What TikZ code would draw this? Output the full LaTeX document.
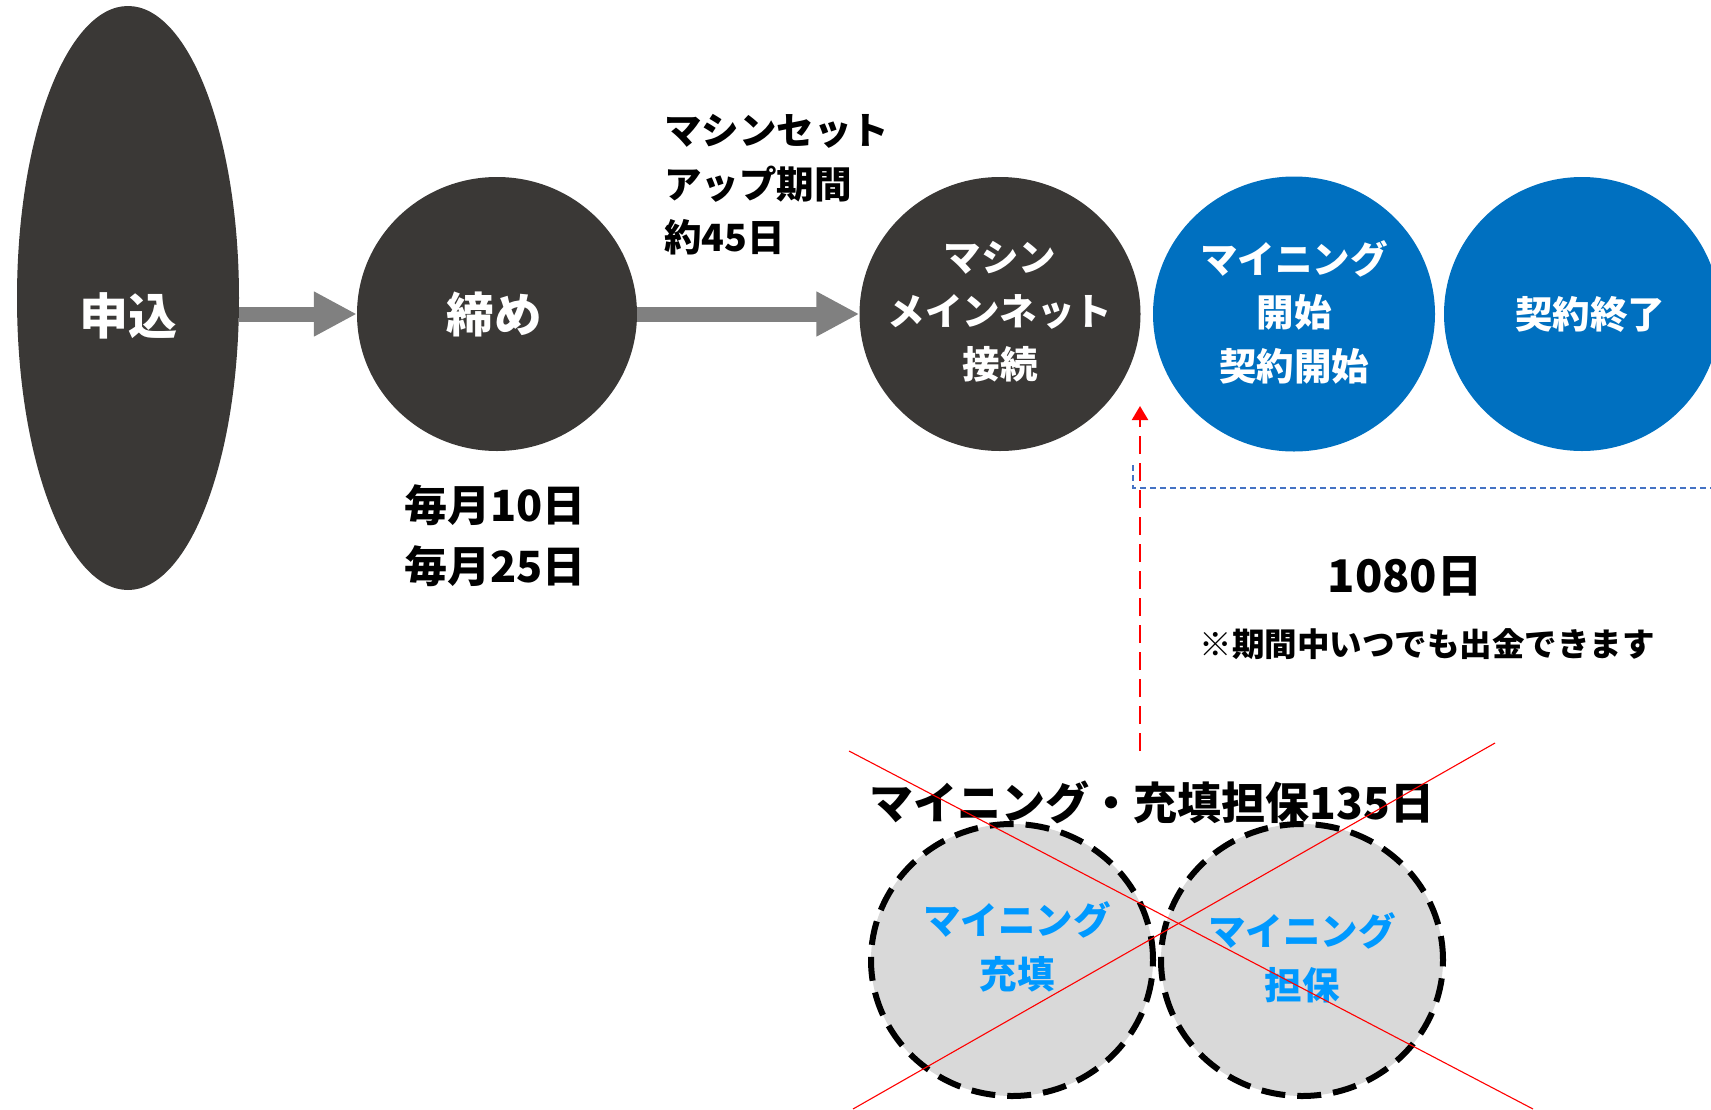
\documentclass[tikz,border=0pt]{standalone}
\usepackage{fontspec}
\setmainfont{Noto Sans CJK JP}
\usetikzlibrary{shapes.geometric,arrows.meta}
\definecolor{darkc}{HTML}{3A3836}
\definecolor{bluec}{HTML}{0070C0}
\definecolor{arrowgray}{HTML}{808080}
\definecolor{lightblue}{HTML}{0099FF}
\definecolor{fillgray}{HTML}{D9D9D9}
\definecolor{linkblue}{HTML}{4472C4}
\tikzset{
  dark/.style={ellipse, fill=darkc, inner sep=0pt},
  bluecirc/.style={ellipse, fill=bluec, inner sep=0pt, minimum width=282, minimum height=275},
  dashcirc/.style={ellipse, fill=fillgray, draw=black, line width=6pt, dash pattern=on 24pt off 12pt, inner sep=0pt, minimum width=282, minimum height=272},
  intext/.style={text=white, inner sep=0pt, align=center, font=\bfseries\fontsize{37.5}{53.5}\selectfont},
  blocktext/.style={font=\bfseries\fontsize{#1}{#1}\selectfont, inner sep=0pt},
  blockarrow/.style={draw=arrowgray, line width=15pt, -{Triangle[length=43pt,width=42pt,fill=arrowgray]}},
  crossline/.style={draw=red, line width=1.1pt},
}
\begin{document}
\begin{tikzpicture}[x=1pt,y=-1pt]
\useasboundingbox (0,0) rectangle (1711,1109);
% top flow
\node[dark, minimum width=222, minimum height=584] (apply) at (128,298) {};
\node[intext, font=\bfseries\fontsize{49}{50}\selectfont] (applyt) at (128,316) {申込};
\node[dark, minimum width=280, minimum height=274] (close) at (497,314) {};
\node[intext, font=\bfseries\fontsize{47.5}{50}\selectfont] (closet) at (494,314) {締め};
\node[dark, minimum width=281, minimum height=274] (connect) at (1000,314) {};
\node[intext] (connectt) at (1000,312) {マシン\\メインネット\\接続};
\node[bluecirc] (start) at (1294,314) {};
\node[intext] (startt) at (1294,312) {マイニング\\開始\\契約開始};
\node[bluecirc, minimum width=276, minimum height=274] (finish) at (1582,314) {};
\node[intext] (finisht) at (1590,314) {契約終了};
\draw[blockarrow] (apply.east |- close.west) -- (close.west);
\draw[blockarrow] (close.east) -- (connect.west);
% labels
\node[blocktext=37.5, anchor=west, align=left, font=\bfseries\fontsize{37.5}{53.5}\selectfont] (setup) at (664,185) {マシンセット\\アップ期間\\約45日};
\node[blocktext=43, align=center, font=\bfseries\fontsize{43}{61}\selectfont] (dates) at (495,536) {毎月10日\\毎月25日};
\node[blocktext=45] (days) at (1405,576) {1080日};
\node[blocktext=32.5] (note) at (1427,644) {※期間中いつでも出金できます};
% blue dashed bracket
\coordinate (bA) at (1133,465);
\coordinate (bB) at (1133,488);
\coordinate (bC) at (1711,488);
\draw[linkblue, line width=1.2pt, dash pattern=on 6pt off 4pt] (bA) -- (bB) -- (bC);
% bottom
\node[blocktext=44] (title) at (1152,802) {マイニング・充填担保135日};
\node[dashcirc] (fillc) at (1012,960) {};
\node[dashcirc] (guar) at (1302,960) {};
\node[blocktext=37.5, text=lightblue, align=center, font=\bfseries\fontsize{37.5}{54}\selectfont] (filltext) at (1017,947) {マイニング\\充填};
\node[blocktext=37.5, text=lightblue, align=center, font=\bfseries\fontsize{37.5}{54}\selectfont] (guartext) at (1302,958) {マイニング\\担保};
% red dashed arrow
\coordinate (rs) at (1140,751);
\coordinate (re) at (1140,406);
\draw[red, line width=2.2pt, dash pattern=on 18pt off 9pt, -{Triangle[length=14pt,width=16pt]}] (rs) -- (re);
% red cross
\coordinate (c1a) at (849,751);
\coordinate (c1b) at (1533,1109);
\coordinate (c2a) at (1495,743);
\coordinate (c2b) at (853,1109);
\draw[crossline] (c1a) -- (c1b);
\draw[crossline] (c2a) -- (c2b);
\end{tikzpicture}
\end{document}
